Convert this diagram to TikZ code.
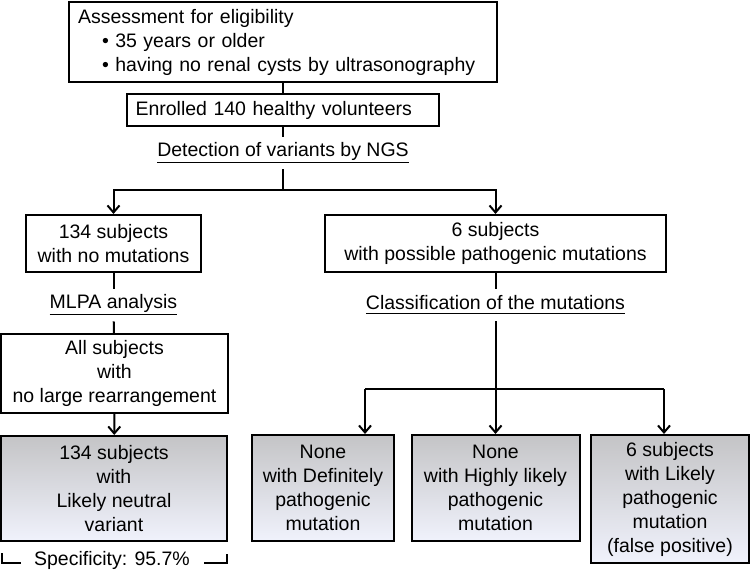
\documentclass[tikz,border=0pt]{standalone}
\usepackage{fontspec}
\setmainfont{Liberation Sans}
\usetikzlibrary{arrows.meta}
\definecolor{gtop}{RGB}{196,196,198}
\definecolor{gbot}{RGB}{240,242,252}
\begin{document}
\begin{tikzpicture}[x=0.5pt,y=-0.5pt,
	font=\fontsize{9.75}{12}\selectfont,
	box/.style={draw, line width=1pt, align=center, inner sep=0pt},
	grbox/.style={box, top color=gtop, bottom color=gbot},
	lbl/.style={inner sep=0pt, minimum height=16pt},
	arr/.style={line width=1pt, -{Straight Barb[length=3.5pt,width=6pt,line width=1pt]}},
	con/.style={line width=1pt}]
			\useasboundingbox (0,0) rectangle (750,577);
			\node[box, align=left, minimum width=214pt, minimum height=40pt, text width=205pt] (assess) at (283,42)
				{Assessment for eligibility\\
				\hspace*{12pt}\textbullet\ 35 years or older\\
				\hspace*{12pt}\textbullet\ having no renal cysts by ultrasonography};
			\node[box, align=left, minimum width=156pt, minimum height=16pt, text width=147.5pt] (enrol) at (283,110) {Enrolled 140 healthy volunteers};
			\node[lbl] (ngs) at (283,153) {\underline{Detection of variants by NGS}};
			\node[box, minimum width=87.5pt, minimum height=28.5pt] (none134) at (113.5,243.5) {134 subjects\\with no mutations};
			\node[box, minimum width=170.5pt, minimum height=28.5pt] (six) at (495.5,243.5) {6 subjects\\with possible pathogenic mutations};
			\node[lbl] (mlpa) at (113.5,305) {\underline{MLPA analysis}};
			\node[lbl] (class) at (495.5,305) {\underline{Classification of the mutations}};
			\node[box, minimum width=113.5pt, minimum height=39.5pt] (allsub) at (114.5,373.5) {All subjects\\with\\no large rearrangement};
			\node[grbox, minimum width=113pt, minimum height=52.5pt] (neutral) at (114,488.5) {134 subjects\\with\\Likely neutral\\variant};
			\node[grbox, minimum width=71pt, minimum height=53pt] (defin) at (323,488) {None\\with Definitely\\pathogenic\\mutation};
			\node[grbox, minimum width=84pt, minimum height=53pt] (high) at (495.5,488) {None\\with Highly likely\\pathogenic\\mutation};
			\node[grbox, minimum width=79pt, minimum height=64pt] (likely) at (670,499) {6 subjects\\with Likely\\pathogenic\\mutation\\(false positive)};
			\node[inner sep=0pt] (spec) at (112,560) {Specificity: 95.7\%};
			\coordinate (jn) at (283,190);
			\coordinate (jl) at (365,389);
			\coordinate (jr) at (664,389);
			\coordinate (sl1) at (2,553);
			\coordinate (sl2) at (21,563);
			\coordinate (sr1) at (227,554);
			\coordinate (sr2) at (204,563);
			\draw[con] (assess) -- (enrol);
			\draw[con] (enrol) -- (ngs);
			\draw[con] (ngs) -- (jn);
			\draw[arr] (jn) -| (none134);
			\draw[arr] (jn) -| (six);
			\draw[con] (none134) -- (mlpa);
			\draw[con] (mlpa) -- (allsub);
			\draw[arr] (allsub) -- (neutral);
			\draw[con] (six) -- (class);
			\draw[arr] (class) -- (high);
			\draw[con] (jl) -- (jr);
			\draw[arr] (jl) -- (jl |- defin.north);
			\draw[arr] (jr) -- (jr |- likely.north);
			\draw[con] (sl1) |- (sl2);
			\draw[con] (sr1) |- (sr2);
			\end{tikzpicture}
\end{document}
